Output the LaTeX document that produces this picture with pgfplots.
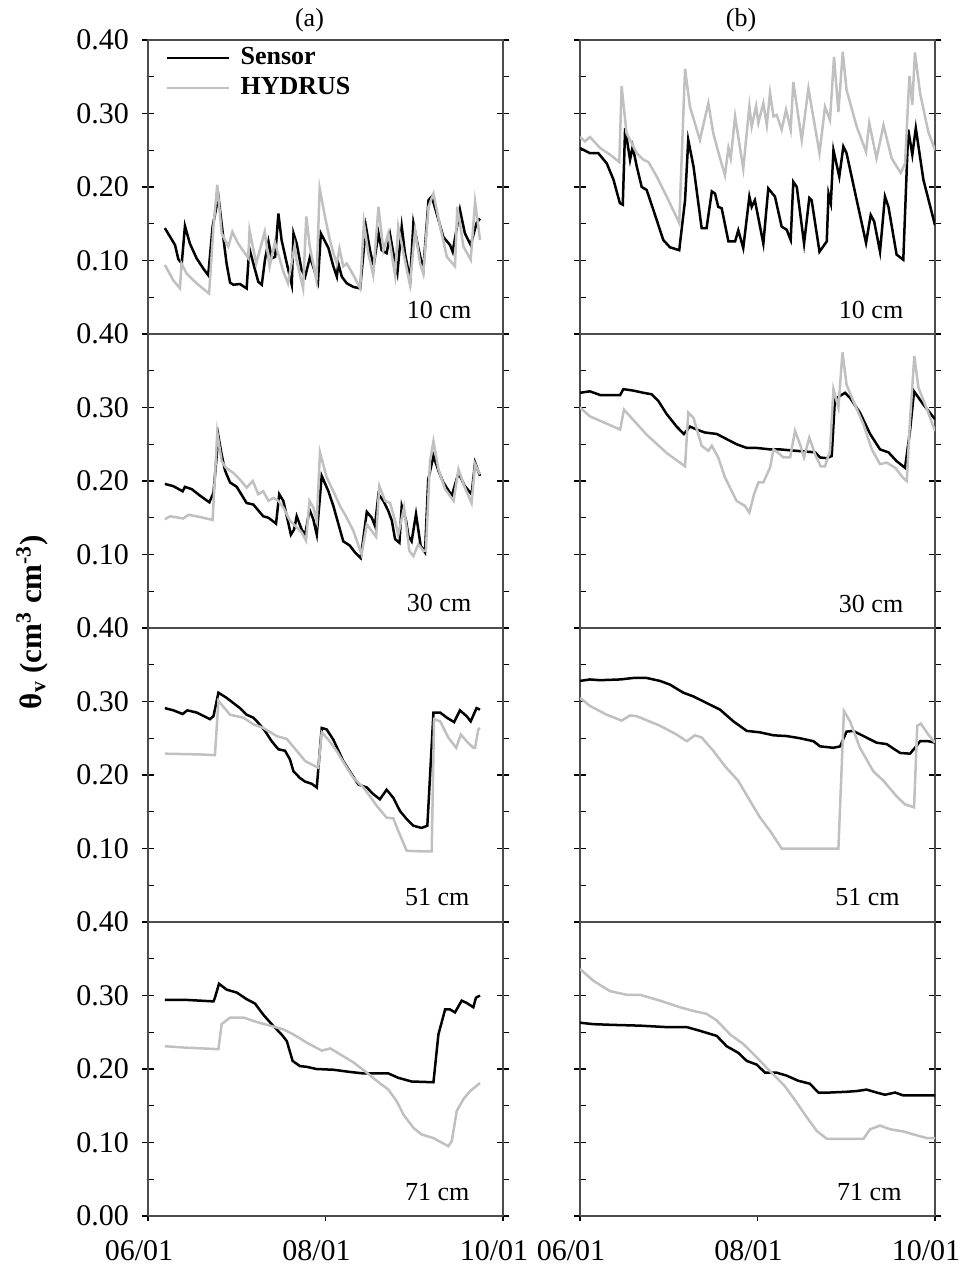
\documentclass[border=0pt]{standalone}
\usepackage{pgfplots}
\pgfplotsset{compat=1.18}
\usepackage{fontspec}
\setmainfont{Liberation Serif}
\definecolor{hyd}{RGB}{192,192,192}
\tikzset{deplab/.style={font=\fontsize{13}{15}\selectfont}}
\pgfplotsset{
  panel/.style={
    scale only axis, width=177.5pt, height=147pt, anchor=north west,
    xmin=0, xmax=122, ymin=0, ymax=0.4,
    xtick=\empty,
    ytick={0,0.1,0.2,0.3,0.4},
    minor ytick={0.05,0.15,0.25,0.35},
    tick align=center,
    major tick length=6pt,
    minor tick length=3pt,
    every minor tick/.append style={xshift=1.5pt},
    every tick/.append style={black, line width=0.6pt},
    axis line style={draw=black!70, line width=0.6pt},
    yticklabel style={font=\fontsize{15}{18}\selectfont, xshift=-3pt},
  },
  leftcol/.style={yticklabels={,0.10,0.20,0.30,0.40}},
  rightcol/.style={yticklabels={}},
  xaxisonly/.style={
    scale only axis, width=177.5pt, height=147pt, anchor=north west,
    xmin=0, xmax=122, ymin=0, ymax=0.4,
    hide y axis, axis x line*=bottom,
    axis line style={draw=black!70, line width=0.6pt},
    xtick={0,61,122}, xticklabels={06/01,08/01,10/01},
    tick align=outside, major tick length=2.5pt,
    every tick/.append style={black, line width=0.6pt},
    xticklabel style={font=\fontsize{15}{18}\selectfont, xshift=-4.5pt, yshift=-6pt},
  },
  sens/.style={black, line width=1.25pt},
  hydr/.style={hyd, line width=1.25pt},
}
\begin{document}
\begin{tikzpicture}
\useasboundingbox (0,0) rectangle (483pt,-636pt);
% ---------- row 1 ----------
\begin{axis}[panel, leftcol, at={(74pt,-20pt)},
  legend style={at={(0.05,0.985)}, anchor=north west, draw=none, fill=none,
    font=\bfseries\fontsize{13}{15}\selectfont, inner sep=0pt, row sep=2pt, column sep=4pt,
    nodes={inner sep=1pt, text height=9pt, text depth=2pt}},
  legend cell align=left,
  legend image code/.code={\draw[#1] (0pt,0pt) -- (31pt,0pt);}]
\addplot[sens] coordinates {(5.8,0.144)(9.3,0.121)(10.4,0.102)(11.6,0.096)(12.7,0.147)(14.4,0.123)(16.7,0.103)(19.0,0.089)(20.7,0.080)(22.2,0.146)(24.2,0.187)(25.7,0.137)(27.0,0.096)(28.2,0.070)(29.3,0.067)(31.6,0.068)(33.9,0.062)(34.8,0.117)(36.2,0.096)(37.9,0.071)(39.1,0.067)(40.2,0.101)(41.4,0.126)(42.5,0.103)(43.7,0.105)(44.8,0.164)(45.9,0.128)(47.7,0.096)(49.4,0.067)(50.0,0.137)(51.1,0.123)(52.8,0.087)(54.0,0.078)(55.7,0.105)(58.4,0.071)(59.4,0.137)(62.0,0.117)(63.7,0.092)(64.9,0.078)(65.4,0.096)(66.6,0.078)(68.3,0.069)(70.6,0.064)(72.9,0.062)(74.9,0.146)(76.3,0.114)(77.5,0.092)(79.2,0.137)(80.3,0.114)(82.0,0.110)(83.2,0.135)(84.3,0.110)(85.7,0.083)(87.2,0.146)(88.3,0.110)(90.1,0.073)(91.2,0.151)(92.9,0.117)(94.6,0.087)(96.4,0.182)(97.5,0.187)(99.2,0.164)(101.5,0.132)(103.8,0.121)(104.7,0.112)(107.2,0.169)(108.9,0.137)(110.9,0.121)(112.9,0.151)(114.1,0.157)};
\addlegendentry{Sensor}
\addplot[hydr] coordinates {(5.8,0.094)(8.7,0.073)(11.0,0.062)(11.5,0.096)(13.3,0.082)(16.7,0.069)(21.0,0.055)(22.5,0.146)(23.8,0.203)(25.3,0.137)(27.6,0.119)(29.0,0.139)(31.0,0.123)(34.5,0.103)(34.9,0.141)(37.2,0.096)(40.1,0.139)(41.8,0.092)(43.6,0.125)(46.5,0.085)(48.1,0.069)(50.4,0.120)(51.0,0.101)(53.3,0.062)(54.4,0.160)(55.6,0.119)(57.9,0.073)(59.0,0.198)(60.8,0.160)(62.5,0.128)(63.7,0.110)(64.9,0.096)(65.8,0.116)(67.1,0.092)(68.3,0.096)(70.6,0.080)(72.9,0.062)(74.2,0.151)(75.7,0.110)(77.4,0.080)(79.2,0.173)(80.9,0.114)(82.6,0.137)(84.9,0.080)(86.0,0.146)(87.8,0.110)(90.0,0.067)(91.8,0.141)(93.5,0.096)(94.6,0.082)(96.4,0.173)(98.1,0.191)(100.4,0.146)(102.7,0.105)(105.5,0.092)(106.3,0.173)(108.4,0.119)(110.9,0.101)(112.4,0.180)(114.1,0.128)};
\addlegendentry{HYDRUS}
\node[deplab] at (rel axis cs:0.82,0.08) {10 cm};
\end{axis}
\begin{axis}[panel, rightcol, at={(290pt,-20pt)}]
\addplot[sens] coordinates {(0,0.253)(3.4,0.246)(6.3,0.246)(9.2,0.232)(11.5,0.210)(13.7,0.178)(14.7,0.176)(15.5,0.280)(17.2,0.237)(18.1,0.255)(19.5,0.228)(21.2,0.200)(22.9,0.196)(25.2,0.169)(28.6,0.128)(30.9,0.118)(34.1,0.114)(36.1,0.182)(37.2,0.264)(39.0,0.228)(41.8,0.144)(43.5,0.144)(45.3,0.194)(46.4,0.191)(47.5,0.173)(48.7,0.171)(51.0,0.126)(53.3,0.126)(54.4,0.141)(56.1,0.117)(58.2,0.187)(59.0,0.173)(60.1,0.182)(63.0,0.123)(64.7,0.198)(67.0,0.187)(69.3,0.146)(71.0,0.142)(72.4,0.128)(73.3,0.207)(74.5,0.200)(77.0,0.123)(78.8,0.185)(79.6,0.182)(82.3,0.112)(84.8,0.126)(85.4,0.191)(86.2,0.178)(87.1,0.250)(89.1,0.214)(90.5,0.255)(91.6,0.246)(95.1,0.182)(98.3,0.124)(99.9,0.162)(101.1,0.153)(103.1,0.112)(104.8,0.187)(106.0,0.173)(108.8,0.108)(111.1,0.101)(112.8,0.278)(114.2,0.244)(115.4,0.280)(118.0,0.210)(122,0.148)};
\addplot[hydr] coordinates {(0,0.268)(1.7,0.262)(3.4,0.268)(6.9,0.253)(10.3,0.244)(13.5,0.234)(14.3,0.337)(16.0,0.273)(17.2,0.264)(19.5,0.246)(21.8,0.237)(23.5,0.234)(26.4,0.214)(29.8,0.187)(34.1,0.151)(36.1,0.361)(37.8,0.309)(41.2,0.264)(44.1,0.314)(45.8,0.273)(47.5,0.248)(49.8,0.216)(51.0,0.253)(51.8,0.239)(53.3,0.296)(56.1,0.225)(58.2,0.310)(59.0,0.282)(60.5,0.310)(61.3,0.287)(63.0,0.314)(64.2,0.284)(65.3,0.328)(66.5,0.296)(67.6,0.298)(69.3,0.278)(70.8,0.305)(72.4,0.278)(73.3,0.343)(76.2,0.264)(78.5,0.334)(82.3,0.246)(84.2,0.309)(85.9,0.291)(87.3,0.377)(88.8,0.302)(90.3,0.384)(91.6,0.332)(95.1,0.282)(98.3,0.248)(99.4,0.287)(101.9,0.239)(104.3,0.284)(107.1,0.239)(110.2,0.219)(111.7,0.232)(113.2,0.351)(114.2,0.312)(115.1,0.383)(116.9,0.327)(119.7,0.275)(122,0.250)};
\node[deplab] at (rel axis cs:0.82,0.08) {10 cm};
\end{axis}
% ---------- row 2 ----------
\begin{axis}[panel, leftcol, at={(74pt,-167pt)}]
\addplot[sens] coordinates {(5.8,0.196)(8.7,0.193)(11.9,0.186)(12.7,0.192)(15.0,0.189)(17.9,0.180)(21.1,0.171)(22.5,0.184)(24.2,0.261)(25.3,0.236)(26.5,0.214)(28.2,0.198)(30.5,0.192)(33.9,0.170)(36.2,0.168)(39.6,0.152)(41.4,0.150)(44.0,0.142)(45.1,0.182)(46.5,0.173)(47.7,0.152)(49.1,0.127)(50.2,0.134)(51.1,0.152)(52.8,0.134)(54.0,0.127)(55.5,0.161)(56.8,0.148)(58.0,0.127)(59.7,0.207)(62.0,0.186)(63.7,0.166)(67.1,0.118)(69.4,0.112)(71.1,0.103)(73.1,0.095)(75.2,0.158)(76.9,0.150)(78.0,0.139)(79.2,0.182)(80.9,0.173)(82.6,0.159)(83.8,0.146)(84.9,0.121)(86.4,0.116)(87.2,0.166)(88.7,0.146)(89.5,0.125)(90.6,0.118)(92.1,0.155)(93.7,0.112)(95.2,0.103)(96.3,0.202)(98.1,0.234)(99.8,0.214)(101.5,0.198)(104.4,0.180)(106.7,0.211)(108.9,0.193)(111.2,0.182)(112.4,0.225)(114.1,0.207)};
\addplot[hydr] coordinates {(5.8,0.148)(7.6,0.152)(12.1,0.149)(13.9,0.154)(17.9,0.151)(22.2,0.147)(23.8,0.266)(25.3,0.227)(26.8,0.218)(29.3,0.211)(31.6,0.202)(33.9,0.191)(36.0,0.200)(37.9,0.182)(39.6,0.186)(41.4,0.173)(43.1,0.177)(44.8,0.173)(46.5,0.164)(48.8,0.146)(51.1,0.137)(52.8,0.130)(54.3,0.119)(55.5,0.173)(56.8,0.164)(58.0,0.146)(59.1,0.239)(61.4,0.205)(63.7,0.186)(66.0,0.166)(68.3,0.150)(70.6,0.132)(73.4,0.100)(75.2,0.141)(76.9,0.132)(78.4,0.124)(79.5,0.193)(81.5,0.173)(83.2,0.170)(84.9,0.146)(86.0,0.127)(88.0,0.164)(89.8,0.105)(91.2,0.098)(92.9,0.114)(94.6,0.105)(95.5,0.105)(96.9,0.227)(98.1,0.254)(99.8,0.216)(102.1,0.189)(105.0,0.173)(106.7,0.216)(108.9,0.191)(111.2,0.170)(112.4,0.223)(114.1,0.209)};
\node[deplab] at (rel axis cs:0.82,0.085) {30 cm};
\end{axis}
\begin{axis}[panel, rightcol, at={(290pt,-167pt)}]
\addplot[sens] coordinates {(0,0.320)(3.4,0.322)(6.9,0.317)(13.8,0.317)(14.9,0.325)(18.3,0.323)(21.8,0.320)(24.6,0.318)(26.9,0.309)(29.8,0.291)(33.2,0.274)(35.7,0.264)(37.8,0.274)(40.1,0.270)(42.9,0.266)(47.0,0.264)(50.4,0.257)(53.8,0.250)(57.3,0.245)(60.7,0.245)(65.3,0.243)(68.7,0.243)(74.5,0.241)(80.8,0.239)(82.5,0.232)(84.8,0.231)(86.5,0.234)(87.6,0.311)(89.4,0.316)(91.1,0.320)(92.8,0.313)(96.2,0.293)(99.7,0.264)(103.1,0.243)(106.0,0.239)(108.8,0.227)(111.7,0.218)(113.4,0.268)(114.8,0.322)(118.0,0.304)(122,0.284)};
\addplot[hydr] coordinates {(0,0.300)(3.4,0.288)(13.8,0.270)(15.1,0.297)(17.2,0.288)(22.9,0.263)(29.8,0.238)(36.1,0.220)(37.2,0.293)(39.0,0.286)(41.8,0.248)(44.1,0.241)(45.3,0.248)(47.5,0.232)(49.8,0.205)(53.8,0.173)(56.7,0.166)(58.2,0.157)(59.8,0.182)(61.3,0.198)(63.0,0.198)(65.3,0.218)(66.5,0.243)(68.2,0.238)(69.9,0.232)(72.2,0.232)(73.9,0.268)(75.6,0.250)(77.0,0.232)(78.8,0.259)(80.8,0.236)(82.7,0.220)(84.2,0.220)(85.9,0.241)(87.1,0.325)(88.8,0.300)(90.2,0.375)(91.6,0.331)(93.9,0.309)(97.4,0.277)(100.3,0.243)(103.1,0.223)(105.4,0.225)(108.3,0.218)(111.1,0.204)(112.3,0.200)(113.4,0.282)(114.9,0.370)(116.3,0.327)(119.2,0.298)(122,0.268)};
\node[deplab] at (rel axis cs:0.82,0.08) {30 cm};
\end{axis}
% ---------- row 3 ----------
\begin{axis}[panel, leftcol, at={(74pt,-314pt)}]
\addplot[sens] coordinates {(5.8,0.291)(8.7,0.288)(11.9,0.283)(13.5,0.288)(16.7,0.285)(21.3,0.276)(22.5,0.280)(24.2,0.312)(27.0,0.305)(29.3,0.298)(31.6,0.291)(33.9,0.282)(36.2,0.278)(37.9,0.271)(40.2,0.260)(42.5,0.246)(44.8,0.235)(47.1,0.233)(48.8,0.221)(50.0,0.205)(52.2,0.196)(54.0,0.191)(56.3,0.188)(58.0,0.183)(59.7,0.264)(61.4,0.262)(63.7,0.248)(67.1,0.219)(70.0,0.201)(72.3,0.187)(75.2,0.183)(77.4,0.174)(79.7,0.167)(82.0,0.180)(84.3,0.169)(86.6,0.151)(88.9,0.140)(91.2,0.131)(94.0,0.128)(96.0,0.131)(98.1,0.285)(100.4,0.285)(102.7,0.278)(105.2,0.272)(107.2,0.288)(109.5,0.280)(110.9,0.273)(112.9,0.291)(114.1,0.289)};
\addplot[hydr] coordinates {(5.8,0.229)(17.9,0.228)(23.0,0.227)(24.2,0.301)(28.2,0.282)(32.8,0.278)(36.2,0.269)(39.6,0.264)(44.2,0.253)(47.7,0.249)(51.1,0.233)(54.0,0.219)(57.4,0.212)(58.5,0.210)(59.7,0.258)(62.0,0.248)(64.8,0.233)(67.7,0.214)(70.6,0.196)(74.0,0.183)(76.3,0.171)(78.6,0.158)(82.0,0.142)(84.3,0.141)(86.0,0.124)(88.9,0.097)(94.6,0.096)(97.5,0.096)(98.3,0.276)(100.4,0.273)(103.2,0.251)(105.9,0.237)(107.5,0.255)(109.5,0.246)(111.8,0.237)(112.4,0.237)(113.5,0.262)(114.1,0.264)};
\node[deplab] at (rel axis cs:0.815,0.085) {51 cm};
\end{axis}
\begin{axis}[panel, rightcol, at={(290pt,-314pt)}]
\addplot[sens] coordinates {(0,0.328)(3.4,0.330)(6.9,0.329)(13.8,0.330)(18.3,0.332)(22.9,0.332)(27.5,0.328)(30.9,0.323)(35.5,0.312)(38.9,0.307)(43.5,0.298)(48.1,0.289)(52.7,0.273)(57.3,0.260)(61.9,0.258)(66.5,0.254)(71.0,0.253)(75.6,0.250)(80.2,0.246)(82.5,0.239)(87.1,0.237)(89.4,0.239)(91.6,0.259)(93.9,0.260)(97.4,0.253)(101.9,0.244)(105.4,0.242)(110.0,0.230)(113.4,0.229)(115.1,0.237)(116.9,0.246)(119.7,0.246)(122,0.244)};
\addplot[hydr] coordinates {(0,0.305)(3.4,0.294)(9.2,0.282)(14.3,0.274)(17.2,0.281)(19.5,0.280)(27.5,0.267)(33.2,0.255)(36.7,0.246)(39.5,0.254)(41.8,0.251)(45.8,0.233)(49.8,0.212)(54.4,0.192)(58.4,0.165)(61.9,0.142)(65.3,0.124)(69.3,0.100)(80.2,0.100)(88.8,0.100)(90.7,0.287)(92.8,0.273)(96.2,0.237)(100.8,0.205)(104.3,0.192)(108.8,0.171)(111.7,0.160)(114.8,0.156)(115.9,0.267)(117.1,0.270)(119.7,0.255)(122,0.244)};
\node[deplab] at (rel axis cs:0.81,0.085) {51 cm};
\end{axis}
% ---------- row 4 ----------
\begin{axis}[panel, yticklabels={0.00,0.10,0.20,0.30,0.40}, at={(74pt,-461pt)}]
\addplot[sens] coordinates {(5.8,0.294)(13.3,0.294)(22.5,0.292)(23.0,0.297)(24.4,0.316)(27.0,0.308)(30.5,0.304)(33.9,0.295)(36.8,0.289)(39.6,0.274)(42.5,0.261)(45.9,0.247)(47.7,0.238)(49.7,0.211)(52.2,0.204)(54.5,0.203)(57.9,0.200)(63.7,0.199)(69.4,0.196)(74.0,0.194)(82.6,0.194)(86.0,0.188)(90.6,0.183)(98.1,0.182)(99.8,0.247)(102.1,0.281)(103.8,0.281)(105.5,0.277)(107.8,0.293)(109.5,0.290)(111.8,0.284)(112.7,0.297)(114.1,0.300)};
\addplot[hydr] coordinates {(5.8,0.231)(13.3,0.229)(24.2,0.227)(25.3,0.261)(28.2,0.270)(32.8,0.270)(37.3,0.264)(41.9,0.259)(46.5,0.254)(50.0,0.247)(54.5,0.236)(59.7,0.225)(62.6,0.228)(66.0,0.220)(70.6,0.209)(75.2,0.195)(78.6,0.184)(82.6,0.172)(85.5,0.156)(87.8,0.138)(91.2,0.120)(94.0,0.111)(98.1,0.106)(103.2,0.095)(104.4,0.102)(106.1,0.143)(108.4,0.159)(110.7,0.170)(112.9,0.177)(114.1,0.181)};
\node[deplab] at (rel axis cs:0.815,0.082) {71 cm};
\end{axis}
\begin{axis}[panel, rightcol, at={(290pt,-461pt)}]
\addplot[sens] coordinates {(0,0.263)(4.6,0.261)(11.5,0.260)(20.6,0.259)(29.8,0.257)(36.7,0.257)(41.2,0.252)(47.0,0.245)(50.4,0.231)(54.4,0.222)(57.3,0.211)(60.7,0.206)(63.6,0.195)(67.6,0.195)(71.0,0.191)(75.0,0.184)(79.0,0.180)(81.9,0.168)(85.9,0.168)(91.6,0.169)(95.1,0.170)(98.5,0.172)(101.9,0.168)(104.8,0.165)(108.3,0.168)(111.1,0.164)(122,0.164)};
\addplot[hydr] coordinates {(0,0.336)(4.6,0.320)(10.3,0.306)(16.0,0.301)(20.6,0.301)(27.5,0.293)(34.4,0.284)(39.0,0.279)(43.5,0.275)(47.0,0.266)(51.6,0.247)(56.1,0.234)(60.7,0.216)(65.3,0.197)(69.9,0.179)(73.3,0.161)(77.3,0.138)(81.3,0.116)(84.8,0.105)(97.4,0.105)(99.7,0.118)(103.1,0.123)(106.6,0.118)(111.1,0.115)(114.6,0.111)(119.2,0.106)(122,0.106)};
\node[deplab] at (rel axis cs:0.815,0.08) {71 cm};
\end{axis}
% ---------- x axes with date ticks ----------
\begin{axis}[xaxisonly, at={(74pt,-461pt)}]
\addplot[draw=none] coordinates {(0,0)};
\end{axis}
\begin{axis}[xaxisonly, at={(290pt,-461pt)}]
\addplot[draw=none] coordinates {(0,0)};
\end{axis}
% ---------- titles and y label ----------
\node[anchor=base, font=\fontsize{13}{15}\selectfont] at (154.75pt,-13.5pt) {(a)};
\node[anchor=base, font=\fontsize{13}{15}\selectfont] at (370.5pt,-13.5pt) {(b)};
\node[rotate=90, font=\bfseries\fontsize{15.5}{18}\selectfont] at (16pt,-311pt)
  {θ\textsubscript{v} (cm\textsuperscript{3} cm\textsuperscript{-3})};
\end{tikzpicture}
\end{document}
